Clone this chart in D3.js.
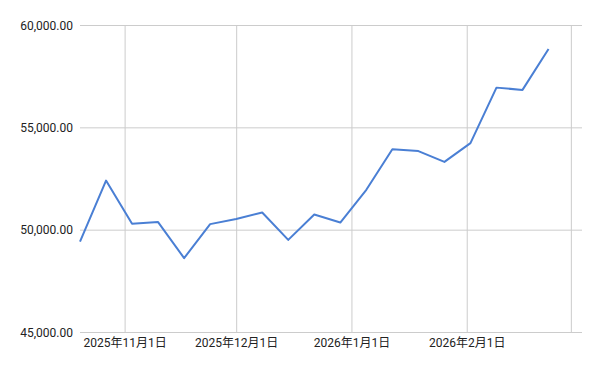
<!DOCTYPE html>
<html>
<head>
<meta charset="utf-8">
<script src="https://cdn.jsdelivr.net/npm/d3@7"></script>
<style>
  body { margin: 0; background: #fff; }
  svg text { font-family: Roboto, "Noto Sans CJK JP", sans-serif; font-size: 12px; fill: #222; }
</style>
</head>
<body>
<svg id="line-chart" width="600" height="371"></svg>
<script>
// weekly values
const dates = ['2025-10-20', '2025-10-27', '2025-11-03', '2025-11-10', '2025-11-17', '2025-11-24',
    '2025-12-01', '2025-12-08', '2025-12-15', '2025-12-22', '2025-12-29', '2026-01-05',
    '2026-01-12', '2026-01-19', '2026-01-26', '2026-02-02', '2026-02-09', '2026-02-16', '2026-02-23'];
const values = [49420, 52400, 50290, 50370, 48610, 50270,
    50520, 50840, 49500, 50740, 50350, 51950,
    53930, 53840, 53310, 54230, 56940, 56830, 58830];
const yTicks = [45000, 50000, 55000, 60000];
const xTicks = ['2025-11-01', '2025-12-01', '2026-01-01', '2026-02-01', '2026-03-01'];
const xLabels = ['2025年11月1日', '2025年12月1日', '2026年1月1日', '2026年2月1日'];

const svg = d3.select('svg#line-chart');
const margin = {top: 25, right: 18, bottom: 39, left: 80};
const width = +svg.attr('width');
const height = +svg.attr('height');
const innerWidth = width - margin.left - margin.right;
const innerHeight = height - margin.top - margin.bottom;

const parse = d3.utcParse('%Y-%m-%d');
const data = dates.map((d, i) => ({date: parse(d), value: values[i]}));

const xScale = d3.scaleUtc()
    .domain([parse('2025-10-20'), parse('2026-03-04')])
    .range([0, innerWidth]);

const yScale = d3.scaleLinear()
    .domain([45000, 60000])
    .range([innerHeight, 0]);

const g = svg.append('g')
    .attr('transform', `translate(${margin.left}, ${margin.top})`);

//horizontal grid + y labels
const yAxis = d3.axisLeft(yScale)
    .tickValues(yTicks)
    .tickFormat(d3.format(',.2f'))
    .tickSize(-innerWidth)
    .tickPadding(7);
g.append('g').call(yAxis)
    .call(s => s.select('.domain').remove())
    .call(s => s.selectAll('.tick line').attr('stroke', '#ccc'))
    .call(s => s.selectAll('.tick text').attr('dy', '0.35em'));

//vertical grid
const xAxis = d3.axisBottom(xScale)
    .tickValues(xTicks.map(parse))
    .tickFormat((d, i) => xLabels[i] || '')
    .tickSize(-innerHeight)
    .tickPadding(6);
g.append('g').call(xAxis)
    .attr('transform', `translate(0, ${innerHeight})`)
    .call(s => s.select('.domain').remove())
    .call(s => s.selectAll('.tick line').attr('stroke', '#ccc'));

//line
const line = d3.line()
    .x(d => xScale(d.date))
    .y(d => yScale(d.value));

g.append('path')
    .datum(data)
    .attr('fill', 'none')
    .attr('stroke', '#4a7fd4')
    .attr('stroke-width', 2)
    .attr('stroke-linejoin', 'round')
    .attr('d', line);
</script>
</body>
</html>
